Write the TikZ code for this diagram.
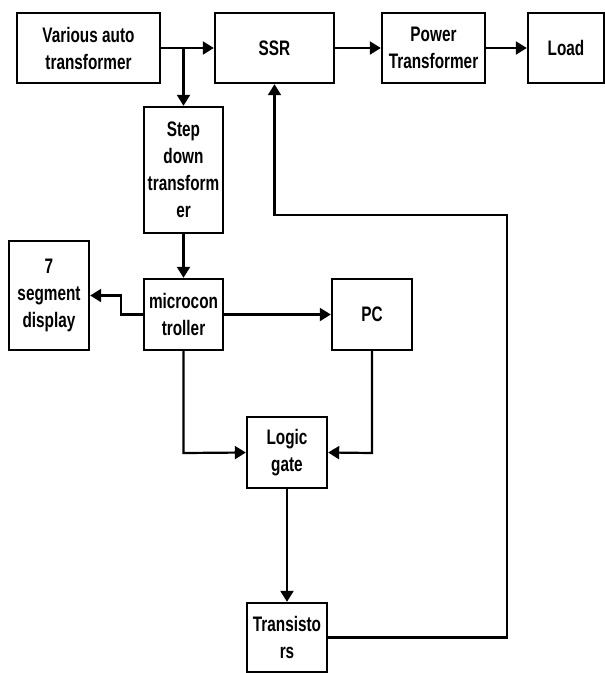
\documentclass[tikz,border=0pt]{standalone}
\usepackage{fontspec}
\setmainfont{Liberation Sans}[FakeStretch=0.73]
\usetikzlibrary{arrows.meta}
\begin{document}
\begin{tikzpicture}[x=1pt,y=-1pt,
  blk/.style={draw=black,line width=2.4pt,rectangle,inner sep=0pt,align=center,
    font=\fontsize{21}{27}\selectfont\bfseries},
  conn/.style={line width=2.2pt,-{Triangle[length=11pt,width=13pt]}}]
\useasboundingbox (0,0) rectangle (605,673);
\fill[white] (0,0) rectangle (605,673);
\node[blk,minimum width=143pt,minimum height=70pt] (vat) at (88.5,48) {Various auto\\transformer};
\node[blk,minimum width=119pt,minimum height=70pt] (ssr) at (274.5,48) {SSR};
\node[blk,minimum width=103pt,minimum height=70pt] (pt) at (433.5,48) {Power\\Transformer};
\node[blk,minimum width=76pt,minimum height=70pt] (load) at (566,48) {Load};
\node[blk,minimum width=79pt,minimum height=126pt] (sd) at (183.5,170) {Step\\down\\transform\\er};
\node[blk,minimum width=80pt,minimum height=109pt] (seg) at (49,295.5) {7\\segment\\display};
\node[blk,minimum width=79pt,minimum height=71pt] (mc) at (183.5,314.5) {microcon\\troller};
\node[blk,minimum width=80pt,minimum height=71pt] (pc) at (372,314.5) {PC};
\node[blk,minimum width=80pt,minimum height=71pt] (lg) at (287,452.5) {Logic\\gate};
\node[blk,minimum width=80pt,minimum height=69pt] (tr) at (287,637.5) {Transisto\\rs};
\coordinate (br) at (sd.north |- vat.east);
\coordinate (s1) at (121,314.5);
\coordinate (s2) at (121,295.5);
\coordinate (m1) at (183.5,453);
\coordinate (p1) at (372,453);
\coordinate (f1) at (507,637.5);
\coordinate (f2) at (507,215);
\coordinate (f3) at (274.5,215);
\draw[conn] (vat.east) -- (ssr.west);
\draw[conn] (br) -- (sd.north);
\draw[conn] (ssr.east) -- (pt.west);
\draw[conn] (pt.east) -- (load.west);
\draw[conn] (sd.south) -- (mc.north);
\draw[conn] (mc.west) -- (s1) -- (s2) -- (seg.east);
\draw[conn] (mc.east) -- (pc.west);
\draw[conn] (mc.south) -- (m1) -- (lg.west);
\draw[conn] (pc.south) -- (p1) -- (lg.east);
\draw[conn] (lg.south) -- (tr.north);
\draw[conn] (tr.east) -- (f1) -- (f2) -- (f3) -- (ssr.south);
\end{tikzpicture}
\end{document}
